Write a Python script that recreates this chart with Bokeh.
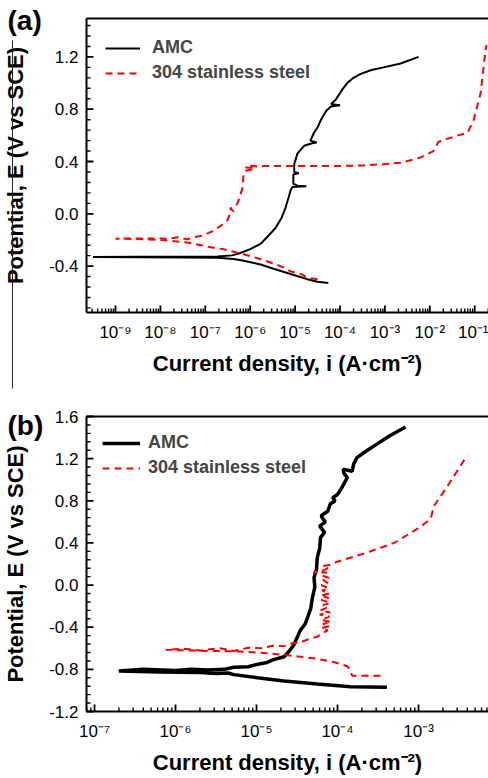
import numpy as np
from bokeh.plotting import figure
from bokeh.layouts import column
from bokeh.models import (Range1d, FixedTicker, CustomJSTickFormatter, LogAxis,
                          Legend, LegendItem, PrintfTickFormatter, GridBox)
from bokeh.core.properties import value
from bokeh.embed import file_html
from bokeh.resources import INLINE

FONT = "Liberation Sans"

# ---------------- data (log10 of current density in A/cm2, potential in V vs SCE)
a_decades = [-9, -8, -7, -6, -5, -4, -3, -2, -1]
a_y_major = [-0.4, 0.0, 0.4, 0.8, 1.2]
a_amc = [(-4.26, -0.53), (-4.50, -0.52), (-4.73, -0.50), (-4.92, -0.48), (-5.10, -0.46),
         (-5.30, -0.44), (-5.48, -0.42), (-5.75, -0.39), (-5.99, -0.37), (-6.20, -0.355),
         (-6.37, -0.345), (-6.73, -0.337), (-7.50, -0.334), (-8.50, -0.332), (-9.50, -0.330),
         (-8.50, -0.329), (-7.50, -0.328), (-6.73, -0.326), (-6.40, -0.318), (-6.22, -0.30),
         (-6.00, -0.27), (-5.77, -0.23), (-5.60, -0.17), (-5.44, -0.11), (-5.30, -0.03),
         (-5.21, 0.05), (-5.14, 0.13), (-5.10, 0.18), (-5.06, 0.205), (-4.75, 0.21),
         (-4.95, 0.215), (-5.04, 0.23), (-5.04, 0.30), (-4.92, 0.31), (-5.02, 0.32),
         (-5.02, 0.38), (-4.95, 0.46), (-4.80, 0.52), (-4.62, 0.54), (-4.52, 0.545),
         (-4.66, 0.56), (-4.58, 0.62), (-4.50, 0.66), (-4.45, 0.70), (-4.39, 0.74),
         (-4.30, 0.79), (-4.20, 0.82), (-4.00, 0.83), (-4.20, 0.84), (-4.10, 0.87),
         (-3.95, 0.95), (-3.84, 1.00), (-3.70, 1.04), (-3.54, 1.07), (-3.30, 1.10),
         (-3.03, 1.12), (-2.65, 1.15), (-2.25, 1.20)]
a_ss = [(-4.50, -0.50), (-4.70, -0.49), (-4.88, -0.46), (-5.10, -0.44), (-5.26, -0.41),
        (-5.48, -0.38), (-5.70, -0.355), (-5.93, -0.33), (-6.15, -0.31), (-6.37, -0.29),
        (-6.60, -0.27), (-6.82, -0.26), (-7.10, -0.24), (-7.40, -0.22), (-7.80, -0.205),
        (-8.30, -0.195), (-9.00, -0.19), (-8.30, -0.188), (-7.84, -0.19), (-7.60, -0.18),
        (-7.40, -0.195), (-7.20, -0.175), (-7.11, -0.17), (-6.95, -0.15), (-6.82, -0.13),
        (-6.65, -0.09), (-6.51, -0.05), (-6.45, 0.00), (-6.37, 0.02), (-6.45, 0.04),
        (-6.30, 0.07), (-6.26, 0.10), (-6.17, 0.20), (-6.15, 0.30), (-6.10, 0.33),
        (-5.95, 0.34), (-5.90, 0.35), (-6.10, 0.355), (-6.05, 0.37), (-5.80, 0.36),
        (-5.70, 0.365), (-5.00, 0.365), (-4.14, 0.365), (-3.50, 0.37), (-3.03, 0.38),
        (-2.65, 0.39), (-2.21, 0.43), (-1.92, 0.48), (-1.81, 0.55), (-1.47, 0.59),
        (-1.16, 0.62), (-1.03, 0.71), (-0.87, 0.92), (-0.76, 1.25), (-0.74, 1.29)]

b_decades = [-7, -6, -5, -4, -3, -2]
b_y_major = [-1.2, -0.8, -0.4, 0.0, 0.4, 0.8, 1.2, 1.6]
b_amc = [(-3.39, -0.97), (-3.84, -0.965), (-4.25, -0.94), (-4.66, -0.91), (-4.99, -0.88),
         (-5.28, -0.85), (-5.35, -0.835), (-5.50, -0.84), (-5.69, -0.83), (-6.20, -0.825),
         (-6.70, -0.815), (-6.40, -0.80), (-6.00, -0.81), (-5.80, -0.80), (-5.60, -0.805),
         (-5.40, -0.80), (-5.28, -0.78), (-5.10, -0.775), (-5.03, -0.76), (-4.87, -0.735),
         (-4.80, -0.71), (-4.66, -0.68), (-4.60, -0.63), (-4.54, -0.57), (-4.50, -0.50),
         (-4.46, -0.43), (-4.40, -0.37), (-4.37, -0.31), (-4.33, -0.22), (-4.31, -0.12),
         (-4.28, -0.02), (-4.29, 0.07), (-4.26, 0.15), (-4.25, 0.26), (-4.22, 0.35),
         (-4.21, 0.45), (-4.16, 0.50), (-4.22, 0.56), (-4.15, 0.60), (-4.19, 0.64),
         (-4.20, 0.66), (-4.12, 0.70), (-4.09, 0.77), (-4.03, 0.80), (-4.06, 0.83),
         (-4.00, 0.86), (-3.95, 0.92), (-3.88, 1.02), (-3.92, 1.06), (-3.93, 1.10),
         (-3.82, 1.08), (-3.80, 1.15), (-3.76, 1.21), (-3.65, 1.27), (-3.51, 1.34),
         (-3.35, 1.42), (-3.16, 1.50)]
b_ss = [(-3.47, -0.86), (-3.82, -0.86), (-3.85, -0.80), (-3.88, -0.77), (-4.05, -0.73),
        (-4.25, -0.70), (-4.46, -0.68), (-4.70, -0.66), (-4.91, -0.645), (-5.20, -0.63),
        (-5.60, -0.625), (-6.12, -0.615), (-5.90, -0.605), (-5.69, -0.62), (-5.45, -0.60),
        (-5.28, -0.625), (-5.10, -0.595), (-4.95, -0.60), (-4.80, -0.575), (-4.66, -0.58),
        (-4.55, -0.55), (-4.46, -0.545), (-4.35, -0.51), (-4.25, -0.49), (-4.17, -0.45),
        (-4.12, -0.43), (-4.20, -0.41), (-4.10, -0.39), (-4.18, -0.37), (-4.08, -0.35),
        (-4.20, -0.33), (-4.10, -0.30), (-4.22, -0.28), (-4.09, -0.26), (-4.21, -0.24),
        (-4.12, -0.21), (-4.18, -0.19), (-4.09, -0.17), (-4.20, -0.14), (-4.11, -0.12),
        (-4.21, -0.10), (-4.10, -0.08), (-4.19, -0.05), (-4.11, -0.03), (-4.20, 0.00),
        (-4.12, 0.02), (-4.18, 0.05), (-4.11, 0.07), (-4.19, 0.09), (-4.13, 0.12),
        (-4.30, 0.12), (-4.17, 0.14), (-4.12, 0.16), (-4.18, 0.18), (-4.10, 0.19),
        (-4.05, 0.21), (-3.84, 0.26), (-3.63, 0.31), (-3.30, 0.40), (-2.98, 0.55),
        (-2.85, 0.63), (-2.81, 0.75), (-2.65, 0.93), (-2.40, 1.23)]

series_labels = ["AMC", "304 stainless steel"]
panel_tags = ["(a)", "(b)"]
y_label = "Potential, E (V vs SCE)"
x_label = "Current density, i (A\u00b7cm\u207b\u00b2)"

SUP_JS = """
const sup = {'-':'\u207b','0':'\u2070','1':'\u00b9','2':'\u00b2','3':'\u00b3','4':'\u2074',
             '5':'\u2075','6':'\u2076','7':'\u2077','8':'\u2078','9':'\u2079'};
const e = Math.round(Math.log10(tick));
return '10' + String(e).split('').map(c => sup[c]).join('');
"""

LEFT, WIDTH, PAGE_H = 86, 488, 778


def xy(pairs):
    arr = np.array(pairs, dtype=float)
    return 10 ** arr[:, 0], arr[:, 1]


def tick_sets(x_lo, x_hi, y_lo, y_hi, decades, y_major):
    x_major = [10.0 ** d for d in decades]
    x_minor = [m * 10.0 ** d for d in range(decades[0] - 1, decades[-1] + 1) for m in range(2, 10)
               if x_lo < np.log10(m) + d < x_hi]
    y_minor = [float(v) for v in np.round(np.arange(-2.0, 2.0, 0.08), 3)
               if y_lo < v < y_hi and min(abs(v - t) for t in y_major) > 1e-6]
    return x_major, x_minor, y_minor


def make_panel(height, x_lo, x_hi, y_lo, y_hi, decades, y_major, top, bottom,
               amc, ss, amc_width, leg_margin, glyph_w, standoff):
    p = figure(width=WIDTH, height=height, x_axis_type="log",
               x_range=Range1d(10 ** x_lo, 10 ** x_hi), y_range=Range1d(y_lo, y_hi),
               output_backend="svg", toolbar_location=None,
               min_border_left=LEFT, min_border_right=0, min_border_top=top,
               min_border_bottom=bottom)
    p.outline_line_color = None
    p.grid.visible = False
    p.background_fill_color = "white"
    p.border_fill_color = "white"

    x_major, x_minor, y_minor = tick_sets(x_lo, x_hi, y_lo, y_hi, decades, y_major)
    xa = p.xaxis[0]
    xa.ticker = FixedTicker(ticks=x_major, minor_ticks=x_minor)
    xa.formatter = CustomJSTickFormatter(code=SUP_JS)
    ya = p.yaxis[0]
    ya.ticker = FixedTicker(ticks=y_major, minor_ticks=y_minor)
    ya.formatter = PrintfTickFormatter(format="%.1f")
    for ax in (xa, ya):
        ax.axis_line_width = 2
        ax.major_tick_in = 0
        ax.major_tick_out = 0
        ax.minor_tick_in = 0
        ax.minor_tick_out = 0
        ax.major_tick_line_color = None
        ax.minor_tick_line_color = None
        ax.major_label_text_font = FONT
        ax.major_label_text_font_size = "17px"
        ax.major_label_text_color = "black"
        ax.axis_label_text_font = FONT
        ax.axis_label_text_font_style = "bold"
        ax.axis_label_text_font_size = "22px"
        ax.axis_label_text_color = "black"
    ya.axis_label = y_label
    ya.major_label_standoff = 8
    ya.axis_label_standoff = 18
    xa.axis_label = x_label
    xa.major_label_standoff = 10
    xa.axis_label_standoff = 6

    top_axis = LogAxis(ticker=FixedTicker(ticks=[]), axis_line_width=2,
                       major_label_text_font_size="0px", major_tick_line_color=None,
                       minor_tick_line_color=None, major_tick_in=0, major_tick_out=0,
                       minor_tick_in=0, minor_tick_out=0, major_label_standoff=0)
    p.add_layout(top_axis, "above")

    x1, y1 = xy(amc)
    x2, y2 = xy(ss)
    r1 = p.line(x1, y1, line_color="black", line_width=amc_width)
    r2 = p.line(x2, y2, line_color="#ff0000", line_width=2, line_dash="7 5")

    leg = Legend(items=[LegendItem(label=series_labels[0], renderers=[r1]),
                        LegendItem(label=series_labels[1], renderers=[r2])],
                 location="top_left", margin=leg_margin, padding=0,
                 glyph_width=glyph_w, glyph_height=20, label_height=20, spacing=4,
                 label_standoff=standoff, label_text_font=FONT,
                 label_text_font_style="bold", label_text_font_size="18px",
                 background_fill_alpha=0, border_line_color=None)
    p.add_layout(leg)
    return p


panel_specs = [
    dict(height=390, x_lo=-9.646, x_hi=-0.693, y_lo=-0.755, y_hi=1.494, decades=a_decades,
         y_major=a_y_major, top=18, bottom=78, amc=a_amc, ss=a_ss, amc_width=2,
         leg_margin=19, glyph_w=35, standoff=12),
    dict(height=388, x_lo=-7.099, x_hi=-2.136, y_lo=-1.2, y_hi=1.6, decades=b_decades,
         y_major=b_y_major, top=26, bottom=67, amc=b_amc, ss=b_ss, amc_width=3.5,
         leg_margin=16, glyph_w=38, standoff=8),
]
figs = [make_panel(**s) for s in panel_specs]
panels = column(*figs, spacing=0)

# transparent overlay in page pixels: panel tags, crop line and inward ticks
ov = figure(width=WIDTH, height=PAGE_H, x_range=Range1d(0, WIDTH), y_range=Range1d(PAGE_H, 0),
            x_axis_location=None, y_axis_location=None, output_backend="svg",
            toolbar_location=None, min_border=0)
ov.grid.visible = False
ov.outline_line_color = None
ov.background_fill_alpha = 0
ov.border_fill_alpha = 0
ov.text(x=[7, 7], y=[20, 425], text=panel_tags, text_font=value(FONT),
        text_font_style="bold", text_font_size="28px", text_baseline="middle",
        text_align="left", text_color="black")
ov.segment(x0=[12], y0=[40], x1=[12], y1=[388], line_color="#222222", line_width=1)

offset = 0
for s in panel_specs:
    x_major, x_minor, y_minor = tick_sets(s["x_lo"], s["x_hi"], s["y_lo"], s["y_hi"],
                                          s["decades"], s["y_major"])
    f_top = offset + s["top"]
    f_bot = offset + s["height"] - s["bottom"]
    fw = WIDTH - LEFT

    def px(v, s=s):
        return LEFT + (np.log10(v) - s["x_lo"]) / (s["x_hi"] - s["x_lo"]) * fw

    def py(v, s=s, f_top=f_top, f_bot=f_bot):
        return f_top + (s["y_hi"] - v) / (s["y_hi"] - s["y_lo"]) * (f_bot - f_top)

    for ticks, ln, lw in ((x_major, 7, 1.8), (x_minor, 4, 1.4)):
        xs = [px(t) for t in ticks]
        ov.segment(x0=xs, y0=[f_bot] * len(xs), x1=xs, y1=[f_bot - ln] * len(xs),
                   line_color="black", line_width=lw)
    for ticks, ln, lw in ((s["y_major"], 7, 1.8), (y_minor, 4, 1.4)):
        ys = [py(t) for t in ticks]
        ov.segment(x0=[LEFT] * len(ys), y0=ys, x1=[LEFT + ln] * len(ys), y1=ys,
                   line_color="black", line_width=lw)
    offset += s["height"]

layout = GridBox(children=[(panels, 0, 0), (ov, 0, 0)], spacing=0)
open("out.html", "w").write(file_html(layout, INLINE))
